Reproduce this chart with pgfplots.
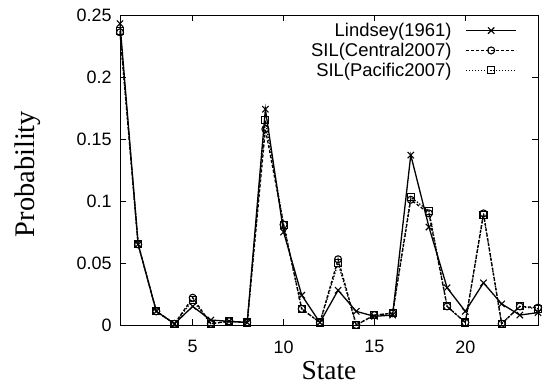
\documentclass[border=0pt]{standalone}
\usepackage{fontspec}
\setmainfont{Liberation Sans}
\newfontfamily\seriffont{Liberation Serif}
\usepackage{pgfplots}
\pgfplotsset{compat=1.18}
\pgfplotstableread{
x lind cent paci
1 0.243 0.236 0.237
2 0.065 0.065 0.065
3 0.011 0.011 0.011
4 0.001 0.001 0.001
5 0.015 0.022 0.020
6 0.004 0.001 0.001
7 0.003 0.003 0.003
8 0.002 0.002 0.002
9 0.174 0.158 0.165
10 0.075 0.081 0.081
11 0.024 0.013 0.013
12 0.002 0.002 0.002
13 0.028 0.053 0.050
14 0.011 0.000 0.000
15 0.007 0.008 0.008
16 0.008 0.0095 0.0095
17 0.137 0.101 0.103
18 0.079 0.090 0.092
19 0.030 0.015 0.015
20 0.011 0.002 0.002
21 0.034 0.090 0.089
22 0.017 0.001 0.001
23 0.008 0.015 0.015
24 0.010 0.014 0.013
}\datatable
\begin{document}
\begin{tikzpicture}
\begin{axis}[
  scale only axis, width=418bp, height=310bp,
  at={(0,0)}, anchor=south west,
  xmin=1, xmax=24, ymin=0, ymax=0.25,
  xtick={5,10,15,20}, ytick={0,0.05,0.1,0.15,0.2,0.25},
  yticklabels={0,0.05,0.1,0.15,0.2,0.25},
  tick align=inside, major tick length=6bp,
  tick style={line width=0.8bp, black},
  axis line style={line width=0.8bp},
  ticklabel style={font=\fontsize{18}{20}\selectfont},
  /pgf/number format/assume math mode=true,
  xticklabel style={yshift=-12bp},
  yticklabel style={xshift=-5bp},
  xlabel={State}, ylabel={Probability},
  xlabel style={font=\seriffont\fontsize{27.5}{30}\selectfont, at={(axis description cs:0.5,-0.148)}, anchor=center},
  ylabel style={font=\seriffont\fontsize{28.5}{30}\selectfont, at={(axis description cs:-0.2213,0.487)}, anchor=center, rotate=0},
  clip=false,
  legend style={draw=none, fill=none, at={(1,1)}, anchor=north east,
    xshift=-18bp, yshift=-4bp, font=\fontsize{18.5}{20}\selectfont,
    row sep=1bp, column sep=12bp},
  legend cell align=right,
  legend plot pos=right,
  legend image code/.code={\draw[mark repeat=2,mark phase=2] plot coordinates {(0bp,0bp) (25bp,0bp) (50bp,0bp)};},
]
\addplot[black, line width=1.3bp, mark=x, mark size=4.5bp, mark options={solid, line width=1.1bp}] table[x=x,y=lind] {\datatable};
\addlegendentry{Lindsey(1961)}
\addplot[black, line width=1.3bp, dash pattern=on 3bp off 2bp, mark=o, mark size=3.5bp, mark options={solid, line width=1.1bp}] table[x=x,y=cent] {\datatable};
\addlegendentry{SIL(Central2007)}
\addplot[black, line width=1.3bp, dash pattern=on 1.3bp off 1.7bp, mark=square, mark size=3.5bp, mark options={solid, line width=1.1bp}] table[x=x,y=paci] {\datatable};
\addlegendentry{SIL(Pacific2007)}
\end{axis}
\pgfresetboundingbox
\path (-120bp,-60bp) rectangle (424bp,325bp);
\end{tikzpicture}
\end{document}
